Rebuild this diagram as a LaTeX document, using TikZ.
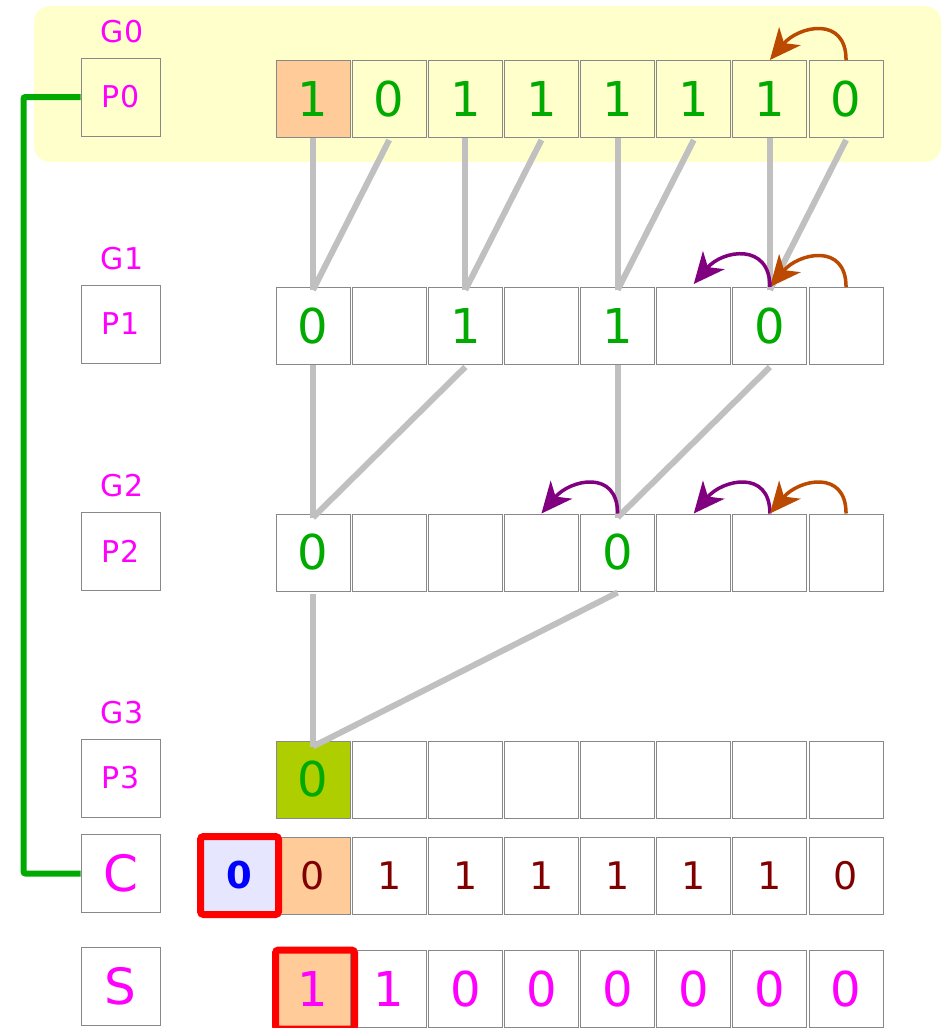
\documentclass[tikz,border=0pt]{standalone}
\usepackage{fontspec}
\setmainfont{DejaVu Sans}
\definecolor{hilite}{RGB}{255,255,204}
\definecolor{cellorange}{RGB}{255,204,153}
\definecolor{bitgreen}{RGB}{0,170,0}
\definecolor{leafgreen}{RGB}{174,206,0}
\definecolor{wire}{RGB}{192,192,192}
\definecolor{rust}{RGB}{187,74,0}
\definecolor{plum}{RGB}{128,0,128}
\definecolor{carry}{RGB}{128,0,0}
\definecolor{frame}{RGB}{136,136,136}
\definecolor{paleblue}{RGB}{230,230,255}
\definecolor{tagpink}{RGB}{255,0,255}
\definecolor{hotred}{RGB}{255,0,0}
\definecolor{pureblue}{RGB}{0,0,255}
\usetikzlibrary{arrows.meta,calc}

\begin{document}
\begin{tikzpicture}[x=1pt, y=-1pt,
    cell/.style={draw=frame, line width=1pt, minimum width=74pt, minimum height=77pt, inner sep=0pt},
    tag/.style={cell, minimum width=79pt, minimum height=78pt, text=tagpink, font=\fontsize{30}{30}\selectfont},
    grp/.style={text=tagpink, font=\fontsize{30}{30}\selectfont},
    big/.style={text=bitgreen, font=\fontsize{48}{48}\selectfont},
    wireline/.style={wire, line width=6pt},
    hop/.style={line width=3.5pt, -{Stealth[length=31pt,width=28pt,inset=9pt]}, looseness=1.5}]
  \useasboundingbox (0,0) rectangle (943,1028);
  \fill[hilite, rounded corners=16pt] (34,6) rectangle (941,162);

  % group and row tags
  \foreach \k/\y in {0/32, 1/259, 2/486, 3/713}
    \node[grp] (g\k) at (122,\y) {G\k};
  \foreach \k/\y in {0/97, 1/324, 2/551, 3/778}
    \node[tag] (p\k) at (120.5,\y) {P\k};
  \node[tag, font=\fontsize{50}{50}\selectfont] (ctag) at (120.5,873.5) {C};
  \node[tag, font=\fontsize{50}{50}\selectfont] (stag) at (120.5,986.5) {S};

  % rows of cells
  \foreach \v/\f [count=\i from 0] in {1/cellorange,0/none,1/none,1/none,1/none,1/none,1/none,0/none}
    \node[cell, big, fill=\f] (a\i) at ({313+76.15*\i},99) {\v};
  \foreach \v [count=\i from 0] in {0,{},1,{},1,{},0,{}}
    \node[cell, big] (b\i) at ({313+76.15*\i},326) {\v};
  \foreach \v [count=\i from 0] in {0,{},{},{},0,{},{},{}}
    \node[cell, big] (c\i) at ({313+76.15*\i},552.5) {\v};
  \foreach \v/\f [count=\i from 0] in {0/leafgreen,{}/none,{}/none,{}/none,{}/none,{}/none,{}/none,{}/none}
    \node[cell, big, fill=\f] (d\i) at ({313+76.15*\i},779.5) {\v};
  \foreach \v/\f [count=\i from 0] in {0/cellorange,1/none,1/none,1/none,1/none,1/none,1/none,0/none}
    \node[cell, fill=\f, text=carry, font=\fontsize{38}{38}\selectfont] (e\i) at ({313+76.15*\i},875.5) {\v};
  \foreach \v/\f [count=\i from 0] in {1/cellorange,1/none,0/none,0/none,0/none,0/none,0/none,0/none}
    \node[cell, fill=\f, text=tagpink, font=\fontsize{48}{48}\selectfont] (s\i) at ({313+76.15*\i},989) {\v};

  \node[cell, draw=hotred, line width=7pt, rounded corners=3pt, fill=paleblue, minimum width=78pt, minimum height=78pt,
        text=pureblue, font=\fontsize{37}{37}\selectfont\bfseries] (cin) at (239.5,875.5) {0};
  \node[draw=hotred, line width=7pt, rounded corners=3pt, minimum width=79pt, minimum height=79pt] (pick) at (315,989.5) {};

  % combining wires
  \foreach \i in {0,2,4,6} {
    \pgfmathtruncatemacro\j{\i+1}
    \draw[wireline] (a\i.south) -- ([yshift=-3pt]b\i.north);
    \draw[wireline] ([yshift=-2pt]a\j.south) -- ([yshift=-3pt]b\i.north);
  }
  \draw[wireline] (b0.south) -- ([yshift=-4pt]c0.north);
  \draw[wireline] ([yshift=-2pt]b2.south) -- ([yshift=-4pt]c0.north);
  \draw[wireline] (b4.south) -- ([yshift=-4pt]c4.north);
  \draw[wireline] ([yshift=-2pt]b6.south) -- ([yshift=-4pt]c4.north);
  \draw[wireline] ([yshift=-2pt]c0.south) -- ([yshift=-6pt]d0.north);
  \draw[wireline] ([yshift=-1pt]c4.south) -- ([yshift=-6pt]d0.north);

  % shifts
  \draw[hop, rust] (a7.north) to[out=90, in=50] (a6.north);
  \draw[hop, rust] (b7.north) to[out=90, in=50] (b6.north);
  \draw[hop, plum] (b6.north) to[out=90, in=50] ([yshift=3pt]b5.north);
  \draw[hop, plum] (c4.north) to[out=90, in=50] (c3.north);
  \draw[hop, plum] (c6.north) to[out=90, in=50] (c5.north);
  \draw[hop, rust] (c7.north) to[out=90, in=50] (c6.north);

  \draw[bitgreen, line width=6pt, rounded corners=2pt] (p0.west) -- ++(-57,0) |- (ctag.west);
\end{tikzpicture}
\end{document}
